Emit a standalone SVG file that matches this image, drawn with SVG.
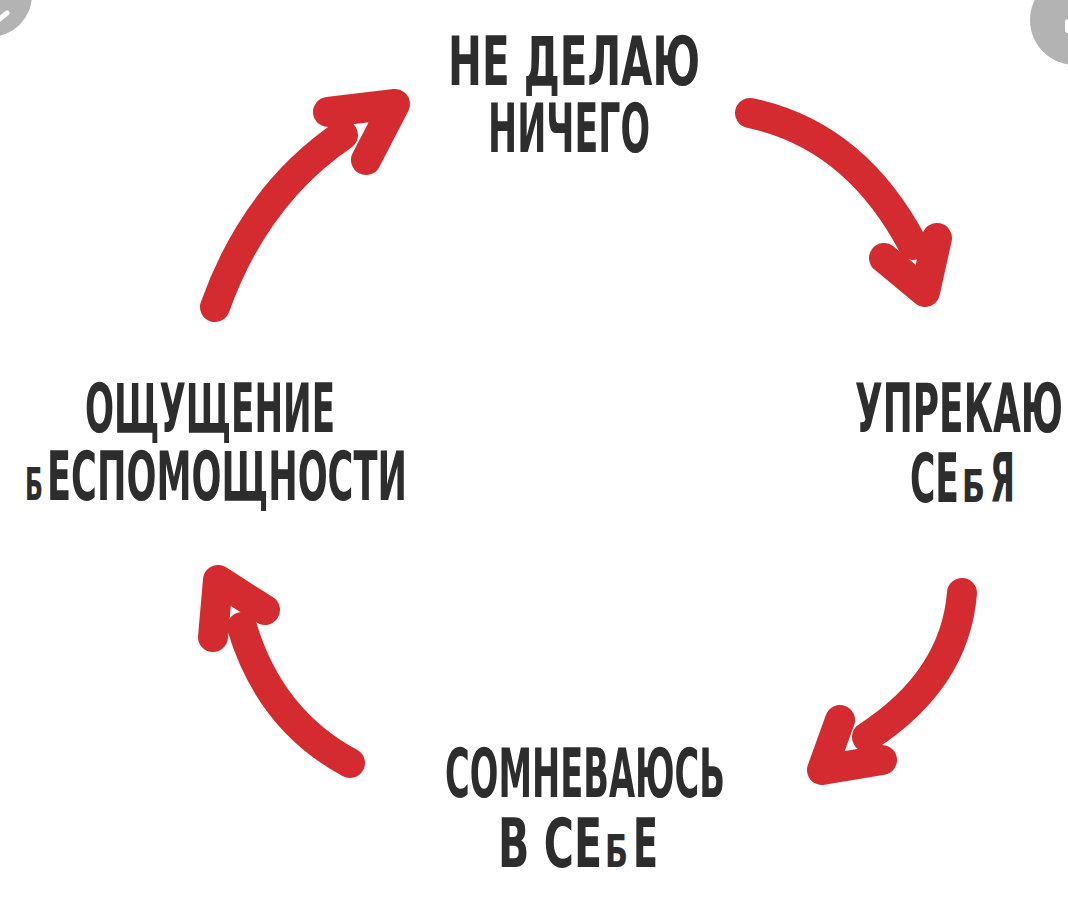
<svg xmlns="http://www.w3.org/2000/svg" width="1068" height="920" viewBox="0 0 1068 920">
<style>
.lbl{font-family:"DejaVu Sans","Liberation Sans",sans-serif;font-weight:bold;font-size:32px;fill:#2d2d2d}
.sm{font-size:24px}
.arr{fill:none;stroke:#d32b30;stroke-width:30;stroke-linecap:round;stroke-linejoin:round}
</style>
<rect width="1068" height="920" fill="#ffffff"/>
<g id="corner-left">
<circle cx="-10" cy="-5" r="42" fill="#b3b3b3"/>
<line x1="-4" y1="22" x2="7" y2="13" stroke="#ffffff" stroke-width="5" stroke-linecap="round"/>
</g>
<g id="corner-right">
<circle cx="1075" cy="20" r="45" fill="#b3b3b3"/>
<rect x="1065" y="19" width="14" height="14" rx="3" fill="#ffffff"/>
</g>
<g id="connectors">
<path class="arr" d="M215,307 Q255,195 343,135"/>
<polyline class="arr" points="328,112 395,104 366,160"/>
<path class="arr" d="M750,113 Q855,135 913,245"/>
<polyline class="arr" points="884,258 925,292 937,238"/>
<path class="arr" d="M962,593 Q955,680 867,737"/>
<polyline class="arr" points="840,720 822,770 882,760"/>
<path class="arr" d="M350,763 Q270,720 242,627"/>
<polyline class="arr" points="213,637 218,580 265,610"/>
</g>
<g id="node-top">
<text class="lbl" transform="translate(448,85) scale(1,2.14)" textLength="252" lengthAdjust="spacingAndGlyphs">НЕ ДЕЛАЮ</text>
<text class="lbl" transform="translate(488,152) scale(1,2.14)" textLength="162" lengthAdjust="spacingAndGlyphs">НИЧЕГО</text>
</g>
<g id="node-right">
<text class="lbl" transform="translate(855,432) scale(1,2.14)" textLength="208" lengthAdjust="spacingAndGlyphs">УПРЕКАЮ</text>
<text class="lbl" transform="translate(910,502) scale(1,2.14)" textLength="49" lengthAdjust="spacingAndGlyphs">СЕ</text>
<text class="lbl sm" transform="translate(962,502) scale(1,1.83)" textLength="23" lengthAdjust="spacingAndGlyphs">Б</text>
<text class="lbl" transform="translate(990,502) scale(1,2.14)" textLength="25" lengthAdjust="spacingAndGlyphs">Я</text>
</g>
<g id="node-bottom">
<text class="lbl" transform="translate(445,797) scale(1,2.14)" textLength="280" lengthAdjust="spacingAndGlyphs">СОМНЕВАЮСЬ</text>
<text class="lbl" transform="translate(498,867) scale(1,2.14)" textLength="104" lengthAdjust="spacingAndGlyphs">В СЕ</text>
<text class="lbl sm" transform="translate(605,867) scale(1,1.83)" textLength="23" lengthAdjust="spacingAndGlyphs">Б</text>
<text class="lbl" transform="translate(633,867) scale(1,2.14)" textLength="25" lengthAdjust="spacingAndGlyphs">Е</text>
</g>
<g id="node-left">
<text class="lbl" transform="translate(85,432) scale(1,2.14)" textLength="250" lengthAdjust="spacingAndGlyphs">ОЩУЩЕНИЕ</text>
<text class="lbl sm" transform="translate(25,500) scale(1,1.83)" textLength="18" lengthAdjust="spacingAndGlyphs">Б</text>
<text class="lbl" transform="translate(47,500) scale(1,2.14)" textLength="360" lengthAdjust="spacingAndGlyphs">ЕСПОМОЩНОСТИ</text>
</g>
</svg>
